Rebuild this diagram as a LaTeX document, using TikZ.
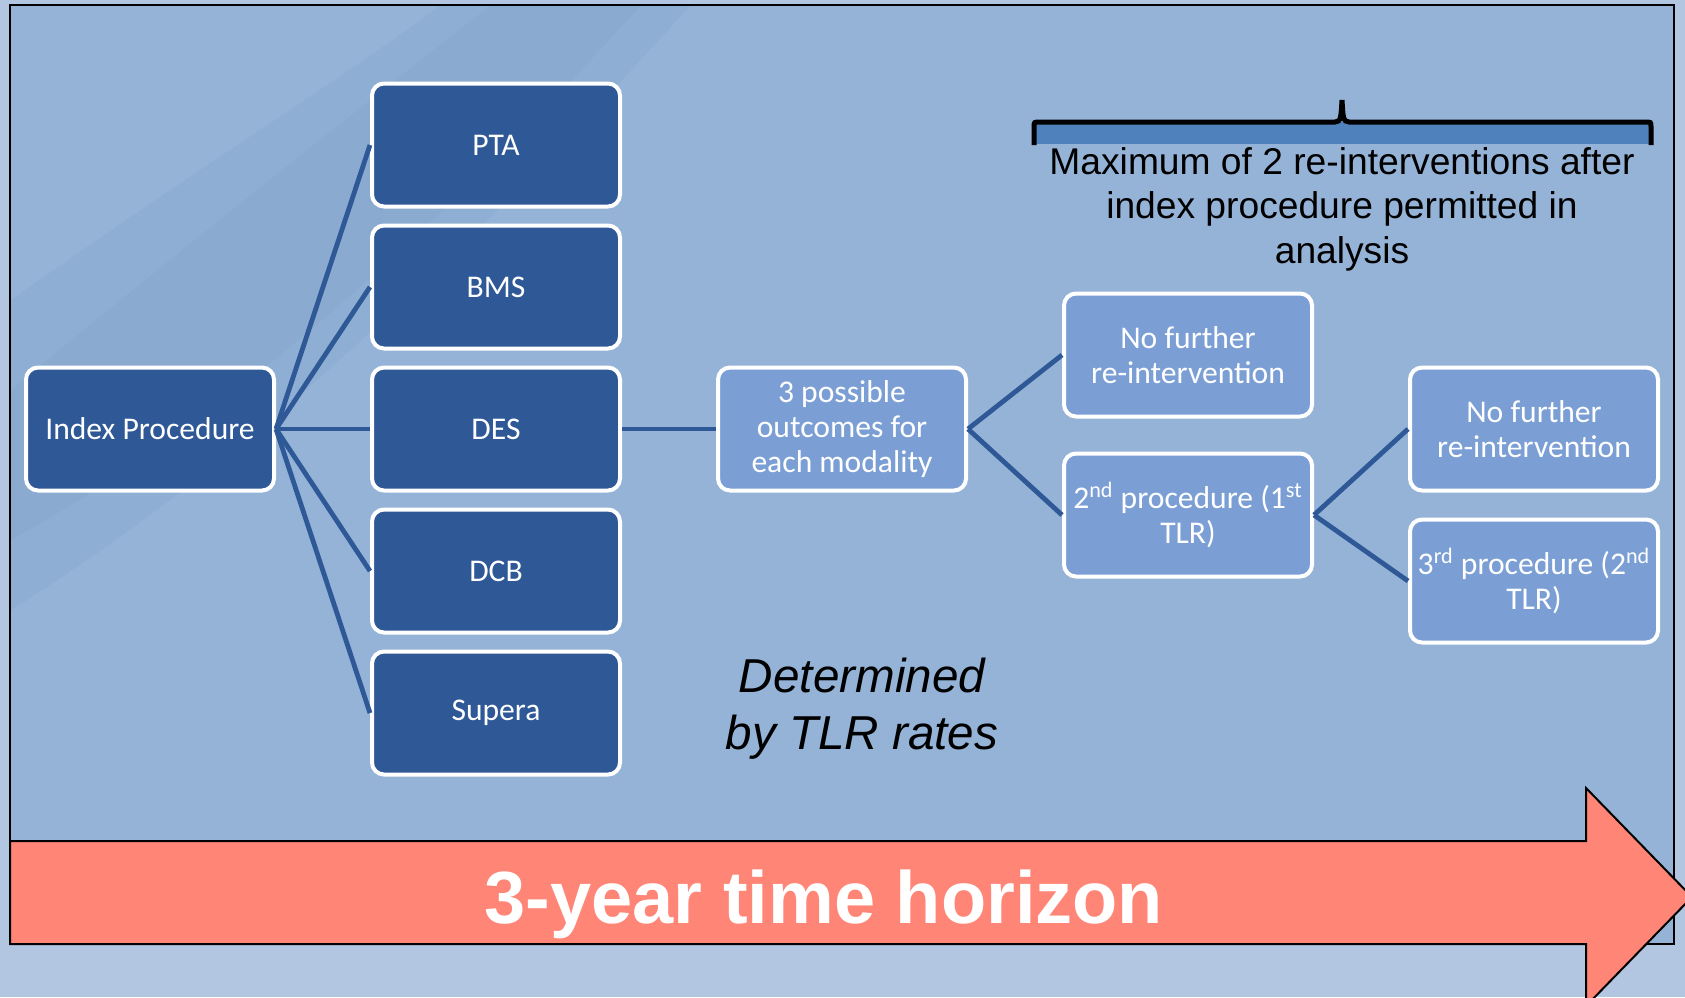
\documentclass[tikz,border=0pt]{standalone}
\usepackage{fontspec}
\setmainfont{Liberation Sans}
\newfontfamily\boxfont{Carlito}
\usetikzlibrary{positioning}
\definecolor{boxdark}{HTML}{2E5896}
\definecolor{boxlight}{HTML}{7B9FD5}
\definecolor{panelblue}{HTML}{95B3D7}
\definecolor{paleblue}{HTML}{B2C6E1}
\definecolor{streakblue}{HTML}{84A6CE}
\definecolor{bracefill}{HTML}{4F81BD}
\definecolor{horizonred}{HTML}{FF8677}

\begin{document}
\begin{tikzpicture}[
  x=0.5pt,y=-0.5pt,
  node distance=7.5pt and 47pt,
  box/.style={draw=white,line width=2pt,rounded corners=6pt,minimum width=124pt,minimum height=61.5pt,inner sep=2pt,align=center,text=white,font=\boxfont\fontsize{15.8}{17.7}\selectfont},
  modality/.style={box,fill=boxdark},
  outcome/.style={box,fill=boxlight},
  link/.style={draw=boxdark,line width=2.4pt},
  note/.style={align=center,text=black}
]
\fill[paleblue] (0,0) rectangle (1685,997);
\useasboundingbox (0,0) rectangle (1685,997);
\draw[fill=panelblue,line width=1.2pt] (10,5) rectangle (1674,944);
\fill[streakblue,opacity=0.35] (11,300) .. controls (180,180) and (340,80) .. (440,6) -- (690,6) .. controls (540,170) and (300,430) .. (11,610) -- cycle;
\fill[streakblue,opacity=0.45] (11,390) .. controls (180,250) and (370,100) .. (490,6) -- (640,6) .. controls (500,160) and (280,390) .. (11,540) -- cycle;

\node[modality] (index) at (150,429) {Index Procedure};
\node[modality,right=of index] (des) {DES};
\node[modality,above=of des] (bms) {BMS};
\node[modality,above=of bms] (pta) {PTA};
\node[modality,below=of des] (dcb) {DCB};
\node[modality,below=of dcb] (supera) {Supera};
\node[outcome,right=of des] (outcomes) {3 possible\\outcomes for\\each modality};
\node[outcome,right=of outcomes,yshift=37pt] (nofurther1) {No further\\re-intervention};
\node[outcome,right=of outcomes,yshift=-43pt] (secondtlr) {2\textsuperscript{nd} procedure (1\textsuperscript{st}\\TLR)};
\node[outcome,right=of secondtlr,yshift=43pt] (nofurther2) {No further\\re-intervention};
\node[outcome,right=of secondtlr,yshift=-33pt] (thirdtlr) {3\textsuperscript{rd} procedure (2\textsuperscript{nd}\\TLR)};

\foreach \m in {pta,bms,des,dcb,supera}
  \draw[link] (index.east) -- (\m.west);
\draw[link] (des) -- (outcomes);
\draw[link] (outcomes.east) -- (nofurther1.west);
\draw[link] (outcomes.east) -- (secondtlr.west);
\draw[link] (secondtlr.east) -- (nofurther2.west);
\draw[link] (secondtlr.east) -- (thirdtlr.west);

\fill[bracefill] (1034,122) rectangle (1651,144);
\draw[line width=2.5pt] (1034,145) -- (1034,127) .. controls (1034,122) .. (1040,122) -- (1335,122) .. controls (1341,122) and (1341,117) .. (1342,100) .. controls (1343,117) and (1343,122) .. (1349,122) -- (1645,122) .. controls (1651,122) .. (1651,127) -- (1651,145);
\node[note,font=\fontsize{18.6}{22.3}\selectfont] (maxnote) at (1342,209) {Maximum of 2 re-interventions after\\index procedure permitted in\\analysis};
\node[note,font=\itshape\fontsize{23.8}{28.5}\selectfont] (tlrnote) at (862,709) {Determined\\by TLR rates};

\draw[fill=horizonred,line width=1pt] (10,841) -- (1586,841) -- (1586,788) -- (1692,897) -- (1586,1006) -- (1586,944) -- (10,944) -- cycle;
\node[anchor=base,text=white,font=\bfseries\fontsize{37}{44}\selectfont] (horizon) at (824,923) {3-year time horizon};
\end{tikzpicture}
\end{document}
